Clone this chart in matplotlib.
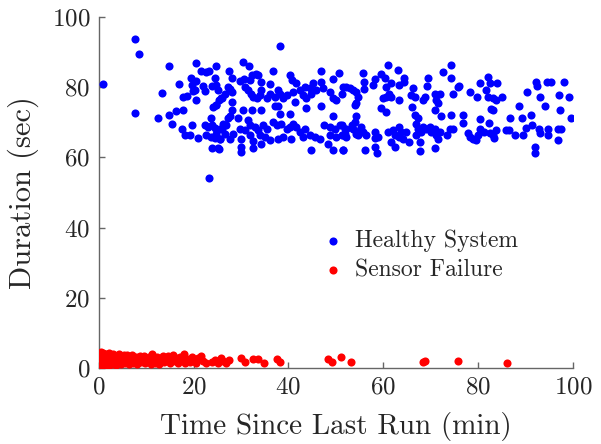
import matplotlib
matplotlib.use("Agg")
import matplotlib.pyplot as plt
import numpy as np

plt.rcParams['font.family'] = ['cmr10', 'DejaVu Serif']
plt.rcParams['mathtext.fontset'] = 'cm'
plt.rcParams['axes.formatter.use_mathtext'] = True

# ---------------- data ----------------
# Healthy system, region x < 26
healthy_x_a = [0.9, 7.7, 8.6, 7.7, 14.9, 13.3, 12.6, 14.9, 15.4, 16.3, 17.7, 17.0, 17.5, 18.2, 19.2, 19.6, 21.0,
               20.5, 21.5, 22.7, 23.3, 24.7, 19.4, 20.6, 19.6, 19.9, 20.3, 21.9, 22.4, 23.9, 24.5, 25.2, 17.7,
               18.7, 20.5, 25.7, 24.0, 24.7, 23.6, 22.4, 23.1, 23.8, 24.6, 25.5, 22.7, 23.6, 24.5, 25.5, 23.8,
               25.4, 23.2]
healthy_y_a = [80.9, 93.6, 89.4, 72.6, 85.9, 78.3, 71.1, 72.0, 69.4, 73.3, 73.6, 80.9, 68.2, 66.5, 66.3, 69.1, 65.6,
               86.8, 84.6, 84.4, 84.6, 85.9, 82.7, 81.9, 80.6, 79.0, 79.2, 80.4, 79.0, 80.4, 82.5, 79.2, 77.1,
               77.4, 76.4, 76.8, 74.4, 74.9, 71.3, 69.1, 68.7, 69.1, 68.4, 68.0, 66.3, 65.8, 65.6, 65.3, 62.8,
               62.5, 54.2]
# Healthy system, 25 < x < 52, upper band
healthy_x_b = [38.2, 30.5, 31.6, 27.5, 33.1, 33.6, 32.4, 36.8, 40.3, 46.8, 50.7, 49.4, 28.1, 29.8, 30.6, 31.9, 34.3,
               36.1, 40.8, 41.7, 45.2, 46.9, 24.8, 27.3, 27.6, 26.6, 28.2, 25.9, 25.4, 28.0, 24.8, 30.8, 31.5,
               32.2, 32.6, 33.3, 34.3, 34.0, 36.1, 37.8, 38.2, 35.4, 37.1, 38.9, 39.6, 41.0, 41.3, 42.4, 43.1,
               43.8, 44.8, 43.4, 44.5, 45.9, 47.3, 48.7, 49.4, 50.1, 51.5, 43.8, 46.8, 37.1, 37.8, 34.3, 32.4,
               30.5, 28.0, 38.2, 40.3, 49.5]
healthy_y_b = [91.6, 87.3, 86.1, 84.7, 83.8, 83.5, 83.5, 84.7, 83.5, 84.7, 84.0, 82.2, 82.5, 81.9, 82.2, 82.0, 81.6,
               80.9, 82.0, 81.3, 81.3, 81.6, 80.6, 80.1, 79.4, 78.2, 78.7, 76.8, 76.3, 75.8, 74.9, 80.1, 79.2,
               78.2, 77.3, 76.8, 79.2, 77.8, 78.2, 79.2, 78.2, 76.8, 77.3, 76.8, 77.8, 78.7, 75.8, 79.2, 77.8,
               76.8, 78.2, 80.1, 79.7, 79.2, 79.7, 78.7, 76.8, 76.3, 80.1, 74.2, 74.6, 74.7, 74.7, 73.4, 73.5,
               73.4, 73.4, 72.3, 72.3, 71.8]
# Healthy system, 25 < x < 52, lower band
healthy_x_c = [27.6, 27.3, 26.2, 25.9, 26.9, 29.4, 31.5, 31.9, 29.7, 30.8, 32.9, 33.6, 34.7, 35.4, 34.0, 35.0, 36.8,
               37.5, 38.5, 39.6, 40.3, 41.0, 41.7, 42.4, 43.4, 43.1, 44.5, 45.5, 46.6, 47.6, 48.7, 49.8, 50.8,
               51.9, 48.7, 50.1, 51.5, 24.8, 26.6, 28.4, 25.5, 27.6, 30.1, 31.9, 32.6, 36.1, 37.8, 38.9, 40.6,
               25.2, 30.1, 30.1, 32.6, 34.3, 44.8, 48.4, 49.4, 51.5]
healthy_y_c = [71.8, 71.1, 69.6, 68.2, 69.1, 71.2, 70.6, 69.1, 68.2, 67.7, 68.7, 67.7, 69.1, 68.2, 66.5, 65.8, 70.1,
               69.1, 69.6, 68.2, 68.7, 69.6, 68.7, 67.2, 68.2, 65.8, 66.3, 65.8, 65.3, 69.1, 68.7, 68.2, 69.1,
               68.2, 66.3, 65.8, 66.3, 66.8, 66.8, 66.8, 65.3, 65.3, 65.3, 66.3, 64.6, 64.9, 65.3, 65.8, 65.3,
               62.7, 62.9, 61.5, 62.7, 63.9, 62.0, 63.9, 62.0, 62.0]
# Healthy system, 51 < x < 76, upper band
healthy_x_d = [61.1, 63.2, 55.7, 59.6, 60.3, 58.2, 57.8, 55.9, 55.9, 61.7, 60.6, 63.4, 64.4, 64.4, 52.2, 52.9, 53.6,
               54.3, 51.2, 54.7, 54.0, 54.3, 60.6, 59.9, 61.7, 61.3, 63.4, 59.6, 60.6, 66.3, 65.9, 66.6, 69.4,
               69.3, 68.4, 68.7, 66.0, 70.8, 71.9, 71.2, 70.8, 71.5, 72.6, 74.2, 74.3, 75.7, 74.7, 74.3, 72.1]
healthy_y_d = [86.3, 84.9, 84.1, 83.8, 82.5, 82.3, 80.6, 81.6, 79.4, 81.1, 80.1, 80.6, 82.7, 81.6, 80.1, 79.7, 79.2,
               78.5, 78.2, 77.1, 74.9, 75.4, 77.3, 76.8, 77.3, 78.2, 76.3, 74.2, 73.0, 79.8, 77.7, 77.3, 82.5,
               80.4, 76.3, 77.3, 74.4, 78.2, 78.2, 76.3, 73.4, 75.4, 84.4, 86.3, 82.7, 80.1, 78.2, 72.2, 71.7]
# Healthy system, 51 < x < 76, lower band
healthy_x_e = [54.3, 54.0, 53.3, 53.6, 52.2, 51.9, 52.2, 51.2, 54.3, 55.0, 55.4, 55.7, 56.4, 54.7, 51.2, 58.2, 58.9,
               58.2, 61.0, 62.0, 62.4, 63.4, 63.8, 63.4, 64.1, 64.8, 65.5, 61.7, 62.4, 58.2, 58.7, 56.1, 66.6,
               67.3, 67.0, 67.3, 68.4, 68.0, 67.0, 67.7, 67.8, 69.1, 69.8, 70.1, 70.8, 71.2, 71.5, 71.9, 70.8,
               73.5, 74.0, 74.7, 51.5]
healthy_y_e = [71.7, 70.1, 69.1, 68.2, 68.2, 66.8, 65.8, 66.3, 66.8, 67.7, 68.7, 67.2, 66.3, 66.3, 69.1, 67.2, 65.8,
               65.4, 67.2, 67.7, 66.3, 68.7, 67.2, 65.8, 65.3, 67.2, 64.4, 64.4, 63.0, 62.9, 61.3, 62.2, 72.0,
               71.1, 69.6, 68.2, 68.7, 67.2, 66.3, 64.4, 61.8, 68.2, 68.7, 67.2, 68.2, 66.3, 65.3, 67.2, 62.8,
               66.3, 68.2, 68.2, 62.0]
# Healthy system, x > 75
healthy_x_f = [75.9, 78.3, 79.7, 80.4, 82.0, 82.4, 81.7, 84.0, 82.0, 83.1, 83.8, 85.1, 82.7, 83.1, 76.9, 76.9, 80.4,
               82.2, 77.8, 78.2, 78.9, 79.6, 79.9, 80.4, 81.3, 82.4, 83.1, 83.7, 83.4, 85.9, 86.6, 87.7, 86.7,
               89.3, 90.0, 89.4, 91.2, 91.4, 88.6, 90.3, 92.1, 92.4, 93.1, 94.2, 94.5, 95.4, 92.8, 93.1, 94.7,
               94.7, 96.8, 97.5, 96.8, 97.3, 97.0, 98.2, 99.1, 99.6, 91.9, 91.9]
healthy_y_f = [80.3, 78.7, 77.1, 81.3, 82.8, 81.1, 79.2, 81.3, 77.3, 76.8, 76.3, 77.1, 73.9, 73.4, 72.0, 69.8, 71.0,
               69.8, 66.9, 65.8, 65.3, 64.9, 66.3, 68.0, 67.2, 67.0, 66.3, 67.9, 65.6, 67.7, 67.7, 66.3, 71.1,
               71.1, 68.5, 66.5, 72.0, 69.1, 74.6, 78.7, 81.6, 80.4, 77.3, 74.6, 81.6, 81.6, 68.0, 67.0, 68.2,
               66.3, 68.0, 68.0, 65.0, 73.4, 77.9, 81.6, 77.1, 71.3, 63.0, 61.3]

# Sensor failure, dense part
failure_x_a = [0.2, 0.3, 0.4, 0.5, 0.6, 0.7, 0.8, 0.9, 1.0, 1.1, 1.2, 1.3, 1.4, 1.5, 1.6, 1.7, 1.8, 1.9, 2.0, 2.1,
               2.2, 2.3, 2.5, 2.6, 2.7, 2.9, 3.0, 3.1, 3.3, 3.4, 3.6, 3.7, 3.9, 4.0, 4.2, 4.3, 4.5, 4.7, 4.8, 5.0,
               5.2, 5.3, 5.5, 5.7, 5.9, 6.0, 6.2, 6.4, 6.6, 6.8, 7.0, 7.2, 7.4, 7.7, 7.9, 8.1, 8.4, 8.7, 8.9, 9.2,
               9.5, 9.8, 10.1, 10.4, 10.7, 11.0, 11.3, 11.5, 11.8, 12.2, 12.5, 12.8, 13.2, 13.5, 13.8, 14.2, 14.6,
               15.0, 15.3, 15.7, 16.0, 16.4, 16.8, 17.2, 17.6, 18.0, 18.3, 18.7, 19.2, 19.6, 20.1, 20.6, 21.0,
               21.5, 22.0, 22.6, 23.8, 24.5, 25.2, 25.8, 26.3, 26.9, 27.4]
failure_y_a = [1.2, 3.1, 4.6, 2.2, 0.9, 3.8, 1.7, 2.9, 4.2, 1.1, 2.5, 3.4, 0.8, 1.9, 4.0, 2.7, 1.4, 3.2, 2.1, 4.3,
               0.9, 2.8, 1.6, 3.6, 2.3, 1.1, 3.0, 4.1, 1.9, 2.6, 0.9, 3.5, 2.2, 1.4, 3.0, 3.9, 1.8, 2.6, 1.0, 3.3,
               2.0, 3.8, 1.3, 2.8, 3.6, 1.7, 2.4, 1.0, 3.2, 2.1, 3.7, 1.5, 2.7, 1.9, 3.1, 1.2, 2.5, 3.4, 1.6, 2.2,
               3.5, 1.3, 2.6, 1.9, 3.0, 1.1, 3.9, 2.3, 1.5, 3.1, 2.0, 1.2, 2.7, 3.5, 1.6, 2.4, 3.3,
               1.3, 2.6, 3.8, 1.9, 2.9, 1.4, 3.2, 2.2, 3.9, 1.5, 2.7, 1.8, 3.0, 2.3, 1.5, 2.8,
               3.3, 1.9, 1.4, 1.6, 2.3, 1.5, 2.9, 1.9, 1.4, 2.2]
# Sensor failure, sparse part
failure_x_b = [29.9, 30.9, 32.5, 33.5, 34.8, 37.5, 38.2, 48.3, 49.1, 51.0, 53.2, 68.3, 68.8, 75.8, 86.1]
failure_y_b = [2.8, 1.7, 2.5, 2.5, 1.3, 2.5, 1.7, 2.5, 1.7, 3.0, 1.7, 1.7, 1.9, 1.9, 1.4]

x_ticks = [0, 20, 40, 60, 80, 100]
y_ticks = [0, 20, 40, 60, 80, 100]

healthy_x = healthy_x_a + healthy_x_b + healthy_x_c + healthy_x_d + healthy_x_e + healthy_x_f
healthy_y = healthy_y_a + healthy_y_b + healthy_y_c + healthy_y_d + healthy_y_e + healthy_y_f
failure_x = failure_x_a + failure_x_b
failure_y = failure_y_a + failure_y_b
assert len(healthy_x) == len(healthy_y)
assert len(failure_x) == len(failure_y)

# ---------------- figure ----------------
fig = plt.figure(figsize=(6.01, 4.44), dpi=100)
ax = fig.add_axes([98.7 / 601, 76 / 444, (573 - 98.7) / 601, (368 - 17) / 444])

ax.scatter(healthy_x, healthy_y, s=34, c='#0000ff', linewidths=0, label='Healthy System', zorder=3)
ax.scatter(failure_x, failure_y, s=34, c='#ff0000', linewidths=0, label='Sensor Failure', zorder=3)

ax.set_xlim(0, 100)
ax.set_ylim(0, 100)
ax.set_xticks(x_ticks)
ax.set_yticks(y_ticks)

for side in ('top', 'right'):
    ax.spines[side].set_visible(False)
for side in ('left', 'bottom'):
    ax.spines[side].set_color('#666666')
    ax.spines[side].set_linewidth(1.0)
ax.tick_params(direction='in', length=4, width=1.0, colors='#666666', labelcolor='#262626',
               labelsize=18, pad=6)

ax.set_xlabel('Time Since Last Run (min)', fontsize=21, color='#262626', labelpad=10)
ax.set_ylabel('Duration (sec)', fontsize=22, color='#262626', labelpad=9)

leg = ax.legend(loc='center left', bbox_to_anchor=(0.445, 0.32), frameon=False, fontsize=17,
                handlelength=1.0, handletextpad=0.4, borderpad=0.0, labelspacing=0.3,
                markerscale=1.0, scatterpoints=1)
for t in leg.get_texts():
    t.set_color('#262626')

fig.savefig('out.png', dpi=100)
